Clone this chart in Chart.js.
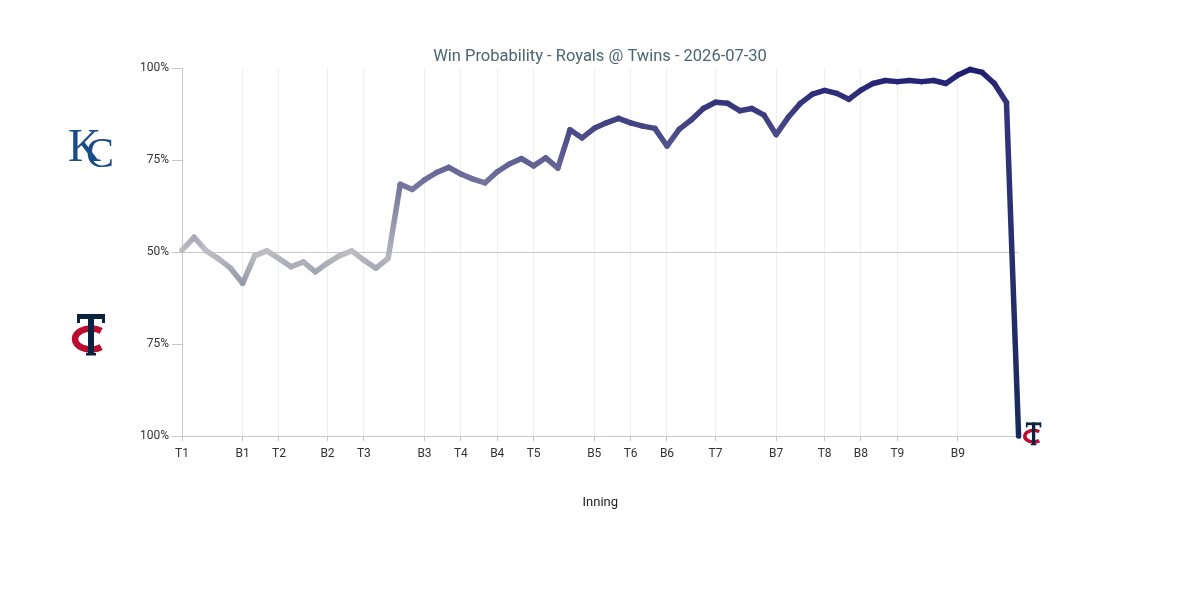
<!DOCTYPE html>
<html>
<head>
<meta charset="utf-8">
<script src="https://cdn.jsdelivr.net/npm/chart.js@4.4.1/dist/chart.umd.min.js"></script>
<style>
  html, body { margin: 0; padding: 0; background: #fff; }
  #wrap { width: 1200px; height: 590px; }
</style>
</head>
<body>
<div id="wrap"><canvas id="wpChart" width="1200" height="590"></canvas></div>
<script>
// Royals win probability after each play (0 = Twins certain, 100 = Royals certain)
const royalsWp = [
  50.5, 54, 50.3, 48.2, 45.6, 41.5, 49, 50.3, 48.2, 46,
  47.3, 44.6, 47, 49, 50.3, 47.8, 45.6, 48.3, 68.4, 67,
  69.6, 71.6, 73, 71.2, 69.8, 68.8, 71.8, 73.9, 75.4, 73.4,
  75.6, 72.8, 83.2, 81, 83.6, 85.1, 86.3, 85.1, 84.2, 83.6,
  78.8, 83.3, 85.9, 89, 90.7, 90.4, 88.4, 89, 87.2, 81.9,
  86.6, 90.4, 92.9, 93.9, 93.1, 91.5, 94, 95.8, 96.6, 96.3,
  96.6, 96.3, 96.6, 95.8, 98.1, 99.6, 98.8, 95.8, 90.6, 0
];
const playIndex = royalsWp.map((v, i) => i);

// half-inning starts (play index) and their labels
const inningTicks = [0, 5, 8, 12, 15, 20, 23, 26, 29, 34, 37, 40, 44, 49, 53, 56, 59, 64];
const inningLabels = ['T1', 'B1', 'T2', 'B2', 'T3', 'B3', 'T4', 'B4', 'T5', 'B5', 'T6', 'B6', 'T7', 'B7', 'T8', 'B8', 'T9', 'B9'];

const yTicks = [0, 25, 50, 75, 100];

const canvas = document.getElementById('wpChart');
const g2d = canvas.getContext('2d');

const neutral = [194, 194, 198];
const royalsInk = [28, 28, 112];
const twinsInk = [24, 42, 92];

function wpColor(v) {
  const target = v >= 50 ? royalsInk : twinsInk;
  const t = Math.pow(Math.abs(v - 50) / 50, 0.75);
  const c = neutral.map((n, k) => Math.round(n + (target[k] - n) * t));
  return 'rgb(' + c.join(',') + ')';
}

// Twins "TC" mark, drawn as shapes, centred on (cx, cy)
function drawTC(ctx, cx, cy, s) {
  ctx.save();
  ctx.translate(cx, cy);
  ctx.scale(s, s);
  ctx.strokeStyle = '#ba0c2f';
  ctx.lineWidth = 6.5;
  ctx.beginPath();
  ctx.ellipse(0, 4, 16, 10.5, 0, 0.28 * Math.PI, 1.72 * Math.PI);
  ctx.stroke();
  ctx.fillStyle = '#0c2340';
  ctx.fillRect(-13, -21, 26, 5);
  ctx.fillRect(-14, -21, 3, 9);
  ctx.fillRect(11, -21, 3, 9);
  ctx.fillRect(-3, -21, 6, 40);
  ctx.fillRect(-5, 18, 10, 2.5);
  ctx.restore();
}

const logoPlugin = {
  id: 'logos',
  afterDraw(chart) {
    const ctx = chart.ctx;
    ctx.save();
    ctx.fillStyle = '#1b4c8a';
    ctx.textBaseline = 'alphabetic';
    ctx.font = '46px "Liberation Serif", "DejaVu Serif", serif';
    ctx.fillText('K', 68, 161);
    ctx.font = '42px "Liberation Serif", "DejaVu Serif", serif';
    ctx.fillText('C', 86, 167);
    ctx.restore();
    drawTC(ctx, 91, 335, 1);
    const pts = chart.getDatasetMeta(0).data;
    const last = pts[pts.length - 1];
    drawTC(ctx, last.x + 15, last.y - 2, 0.55);
  }
};

new Chart(canvas, {
  type: 'line',
  data: {
    labels: playIndex,
    datasets: [{
      data: playIndex.map(i => ({ x: i, y: royalsWp[i] })),
      borderWidth: 5.5,
      borderCapStyle: 'round',
      borderJoinStyle: 'round',
      pointRadius: 0,
      pointHoverRadius: 0,
      tension: 0,
      fill: false,
      clip: false,
      segment: {
        borderColor: ctx => {
          const g = g2d.createLinearGradient(ctx.p0.x, ctx.p0.y, ctx.p1.x, ctx.p1.y);
          g.addColorStop(0, wpColor(royalsWp[ctx.p0DataIndex]));
          g.addColorStop(1, wpColor(royalsWp[ctx.p1DataIndex]));
          return g;
        },
        borderDashOffset: ctx => ctx.p0DataIndex
      }
    }]
  },
  options: {
    responsive: false,
    animation: false,
    events: [],
    layout: { padding: 0 },
    plugins: {
      legend: { display: false },
      tooltip: { enabled: false },
      title: {
        display: true,
        text: 'Win Probability - Royals @ Twins - 2026-07-30',
        color: '#4a6670',
        font: { family: 'Roboto', size: 16.5, weight: 'normal' },
        padding: { top: 47, bottom: 1.2 }
      }
    },
    scales: {
      x: {
        type: 'linear',
        min: 0,
        max: royalsWp.length - 1,
        afterBuildTicks: scale => { scale.ticks = inningTicks.map(v => ({ value: v })); },
        afterFit: scale => { scale.height = 154; },
        ticks: {
          autoSkip: false,
          maxRotation: 0,
          padding: 6,
          color: '#333',
          font: { family: 'Roboto', size: 12 },
          callback: (value, index) => inningLabels[index]
        },
        grid: { color: '#efeff2', tickColor: '#c8c8c8', tickLength: 5 },
        border: { color: '#c8c8c8' },
        title: {
          display: true,
          text: 'Inning',
          color: '#222',
          font: { family: 'Roboto', size: 13 },
          padding: { top: 0, bottom: 79 }
        }
      },
      y: {
        min: 0,
        max: 100,
        afterBuildTicks: scale => { scale.ticks = yTicks.map(v => ({ value: v })); },
        afterFit: scale => { scale.width = 182; },
        ticks: {
          padding: 3,
          color: '#333',
          font: { family: 'Roboto', size: 12 },
          callback: value => (value >= 50 ? value : 100 - value) + '%'
        },
        grid: {
          color: ctx => (ctx.tick && ctx.tick.value === 50 ? '#c8c8c8' : 'rgba(0,0,0,0)'),
          tickColor: '#c8c8c8',
          tickLength: 10
        },
        border: { color: '#c8c8c8' }
      },
      // empty right-hand gutter so the plot ends where the reference does
      gutter: {
        type: 'linear',
        position: 'right',
        display: true,
        afterFit: scale => { scale.width = 181.4; },
        ticks: { display: false },
        grid: { display: false },
        border: { display: false }
      }
    }
  },
  plugins: [logoPlugin]
});
</script>
</body>
</html>
